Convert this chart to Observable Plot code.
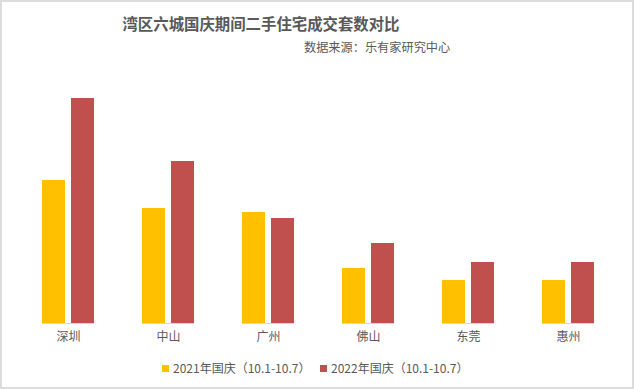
<!DOCTYPE html>
<html>
<head>
<meta charset="utf-8">
<script src="https://cdn.jsdelivr.net/npm/d3@7"></script>
<script src="https://cdn.jsdelivr.net/npm/@observablehq/plot@0.6"></script>
<style>
  html, body { margin: 0; padding: 0; background: #fff; }
  body { width: 634px; height: 389px; position: relative; overflow: hidden;
         font-family: "Noto Sans CJK SC", "Microsoft YaHei", sans-serif; color: #595959; }
  #frame { position: absolute; left: 0; top: 0; width: 634px; height: 389px; border: 2px solid #dcdcdc; box-sizing: border-box; }
  #title { position: absolute; left: 0; width: 522px; top: 12px; text-align: center; font-size: 15.4px; font-weight: bold; color: #595959; line-height: 22px; }
  #subtitle { position: absolute; left: 304px; top: 38px; font-size: 12.2px; color: #595959; line-height: 18px; white-space: nowrap; }
  #chart { position: absolute; left: 0; top: 70px; }
  #legend { position: absolute; left: 0; width: 634px; top: 360px; font-size: 12px; line-height: 16px; color: #595959; }
  .item { position: absolute; white-space: nowrap; }
  .sw { display: inline-block; width: 7px; height: 7px; margin-right: 4px; vertical-align: 1px; }
</style>
</head>
<body>
<div id="frame"></div>
<div id="title"></div>
<div id="subtitle"></div>
<div id="chart"></div>
<div id="legend"></div>
<script>
const titleText = "湾区六城国庆期间二手住宅成交套数对比";
const subtitleText = "数据来源：乐有家研究中心";
const cities = ["深圳", "中山", "广州", "佛山", "东莞", "惠州"];
const seriesNames = ["2021年国庆（10.1-10.7）", "2022年国庆（10.1-10.7）"];
const colors = ["#FFC000", "#C0504D"];
const values2021 = [143, 115, 111, 55, 43, 43];
const values2022 = [225, 162, 105, 80, 61, 61];

document.getElementById("title").textContent = titleText;
document.getElementById("subtitle").textContent = subtitleText;

const data = [];
cities.forEach((c, i) => {
  data.push({city: c, series: seriesNames[0], value: values2021[i]});
  data.push({city: c, series: seriesNames[1], value: values2022[i]});
});

const chart = Plot.plot({
  width: 634,
  height: 280,
  marginLeft: 16,
  marginRight: 15,
  marginTop: 3,
  marginBottom: 27,
  style: {fontFamily: "'Noto Sans CJK SC', sans-serif", fontSize: "12px", color: "#595959", background: "transparent"},
  fx: {domain: cities, paddingInner: 0.483, paddingOuter: 0.2415, axis: "bottom", label: null, tickSize: 0, tickPadding: 9},
  x: {domain: seriesNames, paddingInner: 0.207, paddingOuter: 0, axis: null},
  y: {domain: [0, 250], axis: null},
  color: {domain: seriesNames, range: colors},
  marks: [
    Plot.barY(data, {fx: "city", x: "series", y: "value", fill: "series"}),
    Plot.ruleY([0], {stroke: "#d9d9d9", strokeWidth: 1})
  ]
});
document.getElementById("chart").appendChild(chart);

const legend = document.getElementById("legend");
const lefts = [162, 320];
seriesNames.forEach((s, i) => {
  const it = document.createElement("div");
  it.className = "item";
  it.style.left = lefts[i] + "px";
  it.innerHTML = `<span class="sw" style="background:${colors[i]}"></span>${s}`;
  legend.appendChild(it);
});
</script>
</body>
</html>
